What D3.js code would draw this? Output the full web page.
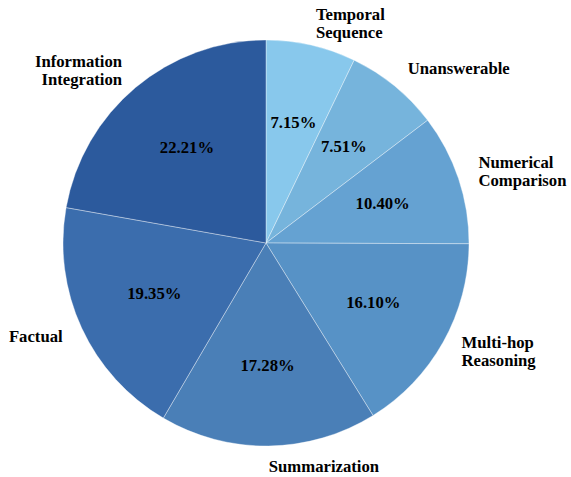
<!DOCTYPE html>
<html><head><meta charset="utf-8">
<script src="https://cdn.jsdelivr.net/npm/d3@7"></script>
<style>body{margin:0;background:#fff} text{font-family:"Liberation Serif","Times New Roman",Times,serif;font-weight:bold;font-size:16.7px}</style>
</head><body>
<svg id="c" width="571" height="477"></svg>
<script>
const categories = ["Temporal Sequence","Unanswerable","Numerical Comparison","Multi-hop Reasoning","Summarization","Factual","Information Integration"];
const labelLines = [["Temporal","Sequence"],["Unanswerable"],["Numerical","Comparison"],["Multi-hop","Reasoning"],["Summarization"],["Factual"],["Information","Integration"]];
const values = [7.15, 7.51, 10.40, 16.10, 17.28, 19.35, 22.21];
const colors = ["#88c8ec","#76b4dc","#65a2d2","#5792c6","#4a7fb7","#3b6dad","#2c5a9d"];

const svg = d3.select("#c");
const cx = 266, cy = 243, R = 203;
const g = svg.append("g").attr("transform", `translate(${cx},${cy})`);
const pie = d3.pie().sort(null).value(d => d)(values);
const arc = d3.arc().innerRadius(0).outerRadius(R);
const color = d3.scaleOrdinal().domain(categories).range(colors);

g.selectAll("path").data(pie).join("path")
  .attr("d", arc)
  .attr("fill", (d,i) => color(categories[i]))
  .attr("stroke", "rgba(255,255,255,0.45)")
  .attr("stroke-width", 0.8);

const inner = d3.arc().innerRadius(123).outerRadius(123);
g.selectAll("text.pct").data(pie).join("text")
  .attr("class","pct")
  .attr("transform", d => `translate(${inner.centroid(d)})`)
  .attr("text-anchor","middle").attr("dy","0.28em")
  .attr("fill","#000")
  .text(d => d.data.toFixed(2) + "%");

const outer = d3.arc().innerRadius(224).outerRadius(224);
pie.forEach((d,i) => {
  const [x,y] = outer.centroid(d);
  const mid = (d.startAngle + d.endAngle)/2;
  const anchor = mid < Math.PI ? "start" : "end";
  const lines = labelLines[i];
  const lh = 18;
  const t = g.append("text")
    .attr("text-anchor", anchor)
    .attr("fill","#000");
  lines.forEach((l,j) => {
    t.append("tspan").attr("x", x)
      .attr("y", y + (j - (lines.length-1)/2)*lh)
      .attr("dy","0.28em").text(l);
  });
});
</script>
</body></html>
